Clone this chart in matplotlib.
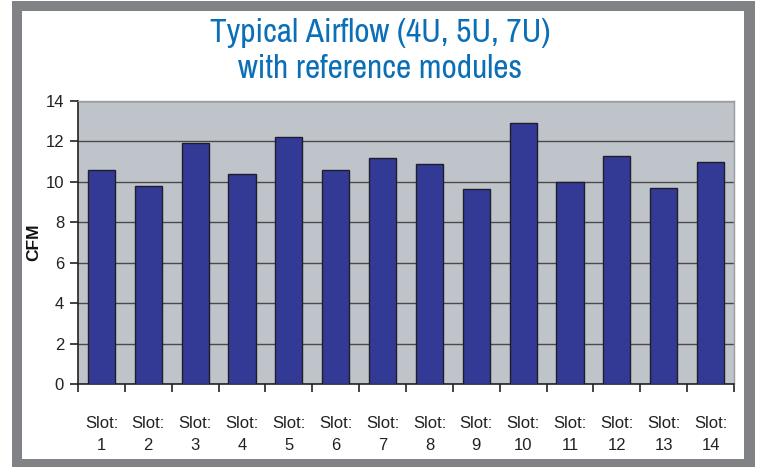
import matplotlib
matplotlib.use("Agg")
import matplotlib.pyplot as plt
from matplotlib import font_manager
from matplotlib.patches import Rectangle

slots = list(range(1, 15))
tick_labels = [f"Slot:\n{s}" for s in slots]
cfm = [10.6, 9.8, 11.9, 10.4, 12.2, 10.6, 11.2, 10.9, 9.65, 12.9, 10.0, 11.3, 9.7, 11.0]
y_ticks = [0, 2, 4, 6, 8, 10, 12, 14]
title_text = "Typical Airflow (4U, 5U, 7U)\nwith reference modules"
y_label = "CFM"

names = {f.name for f in font_manager.fontManager.ttflist}
base_font = "Liberation Sans" if "Liberation Sans" in names else "DejaVu Sans"
title_font = base_font
for cand in ["Liberation Sans Narrow", "Archivo Narrow", "Roboto Condensed", "PT Sans Narrow"]:
    if cand in names:
        title_font = cand
        break
plt.rcParams['font.family'] = [base_font, 'DejaVu Sans']

W, H = 757, 467
fig = plt.figure(figsize=(W / 100, H / 100), dpi=100)
fig.patch.set_facecolor("white")

# outer gray frame
frame_col = "#808285"
fig.add_artist(Rectangle((12 / W, 0), (755 - 12) / W, 1 - 1 / H, transform=fig.transFigure,
                         facecolor=frame_col, edgecolor="none", zorder=0))
fig.add_artist(Rectangle((22 / W, 1 - 459 / H), (744 - 22) / W, (459 - 11) / H, transform=fig.transFigure,
                         facecolor="white", edgecolor="none", zorder=0))

ax = fig.add_axes([78 / W, 1 - 384 / H, (734 - 78) / W, (384 - 101) / H])
ax.set_facecolor("#bfc3ca")
ax.bar(slots, cfm, width=0.58, color="#333a96", edgecolor="#1e1e2a", linewidth=1.0, zorder=3)

ax.set_xlim(0.5, 14.5)
ax.set_ylim(0, 14)
ax.set_yticks(y_ticks)
ax.yaxis.grid(True, color="#4a4a4a", linewidth=1.0, zorder=1)
ax.set_axisbelow(True)

ax.set_xticks(slots)
ax.set_xticklabels(tick_labels, fontsize=12, color="#222222", linespacing=1.6)
ax.set_xticks([s + 0.5 for s in [0] + slots], minor=True)
ax.tick_params(axis="x", which="major", length=0, pad=23)
ax.tick_params(axis="x", which="minor", length=6, width=1.2, color="#222222", direction="out")
ax.tick_params(axis="y", length=6, width=1.2, color="#222222", labelsize=12, labelcolor="#222222", pad=4)

for s in ["left", "bottom"]:
    ax.spines[s].set_color("#222222")
    ax.spines[s].set_linewidth(1.2)
for s in ["top", "right"]:
    ax.spines[s].set_color("#9a9ca0")
    ax.spines[s].set_linewidth(1.0)

ax.set_ylabel(y_label, fontsize=12.5, fontweight="bold", color="#111111", labelpad=3)

fig.text(380 / W, 1 - 51 / H, title_text, ha="center", va="center", fontsize=24,
         color="#0b6fb7", family=[title_font, 'DejaVu Sans'], linespacing=1.22)

fig.savefig("out.png", dpi=100)
